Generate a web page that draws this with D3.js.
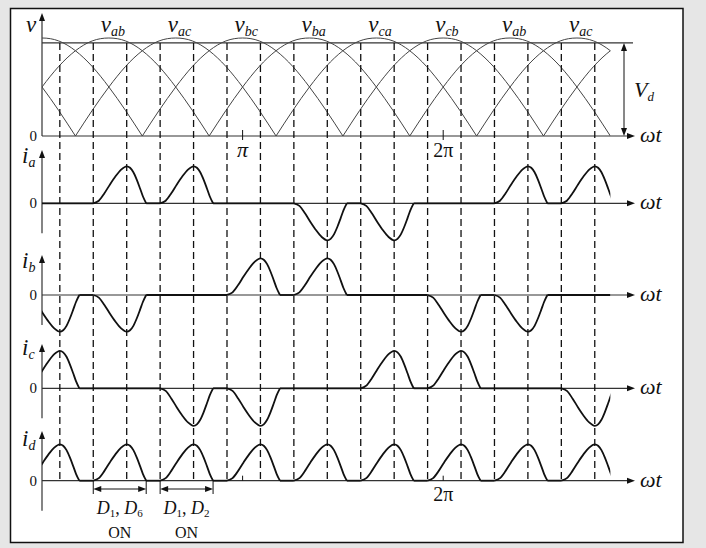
<!DOCTYPE html>
<html><head><meta charset="utf-8">
<script src="https://cdn.jsdelivr.net/npm/d3@7"></script>
<style>
html,body{margin:0;padding:0;background:#e6e6e6;}
svg{display:block;}
svg text{font-family:"Liberation Serif","Times New Roman",serif;fill:#111;}
</style></head><body>
<svg id="chart" width="706" height="548"></svg>
<script>
(function(){
// ---------------- data (angles in degrees of ωt) ----------------
const phaseLabels = ["ab","ac","bc","ba","ca","cb","ab","ac"];
const phasePeaks  = [60,120,180,240,300,360,420,480];
// start angle (zero crossing) of each rectified line-voltage half wave
const arcZeroStarts = [-150,-90,-30,30,90,150,210,270,330,390,450];
const arcShapeOffsets = [0,15,30,45,60,75,90,105,120,135,150,165,180];
const arcShapeValues  = [0,0.26,0.5,0.71,0.87,0.97,1,0.97,0.87,0.71,0.5,0.26,0];
const vdLevel = 0.95;
const dashedAngles = [16,46,76,106,136,166,196,226,256,286,316,346,376,406,436,466,496];
// shape of one current pulse: offset from pulse start, normalised value
const pulseOffsets = [0,5,10,15,20,25,30,33,36,39,42,44.5,47.5];
const pulseValues  = [0,0.07,0.27,0.51,0.73,0.91,1,0.96,0.84,0.64,0.4,0.19,0];
// pulse peak angles and signs for each current
const iaPeaks = [76,136,256,316,436,496];
const iaSigns = [1,1,-1,-1,1,1];
const ibPeaks = [16,76,196,256,376,436];
const ibSigns = [-1,-1,1,1,-1,-1];
const icPeaks = [16,136,196,316,376,496];
const icSigns = [1,-1,-1,1,1,-1];
const idPeaks = [16,76,136,196,256,316,376,436,496];
const idSigns = [1,1,1,1,1,1,1,1,1];
const thetaEnd = 510;
const piTicks = [180,360];

// ---------------- layout ----------------
const svg = d3.select("#chart");
svg.append("rect").attr("x",10.5).attr("y",8.5).attr("width",672.5).attr("height",534)
   .attr("fill","#fff").attr("stroke","#111").attr("stroke-width",1.5);

const x = d3.scaleLinear().domain([0,180]).range([42,242.6]);
const x0 = x(0), xAxisEnd = 629;

const defs = svg.append("defs");
defs.append("clipPath").attr("id","clipT").append("rect")
  .attr("x",x0).attr("y",0).attr("width",x(thetaEnd)-x0).attr("height",548);

function arrowHead(g, tipX, tipY, dir){
  let p;
  if(dir==="right") p=[[tipX,tipY],[tipX-8,tipY-3],[tipX-8,tipY+3]];
  else if(dir==="up") p=[[tipX,tipY],[tipX-3,tipY+8],[tipX+3,tipY+8]];
  else p=[[tipX,tipY],[tipX-3,tipY-8],[tipX+3,tipY-8]];
  g.append("path").attr("d","M"+p.map(d=>d.join(",")).join("L")+"Z").attr("fill","#111");
}

// ---------------- top panel: rectified line voltages ----------------
const yV = d3.scaleLinear().domain([0,1]).range([136,38]);
const topG = svg.append("g");
topG.append("line").attr("x1",x0).attr("x2",xAxisEnd).attr("y1",yV(0)).attr("y2",yV(0))
   .attr("stroke","#333").attr("stroke-width",1.2);
arrowHead(topG, xAxisEnd+6, yV(0), "right");
topG.append("line").attr("x1",x0).attr("x2",x0).attr("y1",yV(0)).attr("y2",20)
   .attr("stroke","#333").attr("stroke-width",1.2);
arrowHead(topG, x0, 13, "up");
topG.append("line").attr("x1",x0).attr("x2",633).attr("y1",yV(vdLevel)).attr("y2",yV(vdLevel))
   .attr("stroke","#333").attr("stroke-width",1.3);
const vLine = d3.line().x(d=>x(d[0])).y(d=>yV(d[1])).curve(d3.curveNatural);
const arcG = topG.append("g").attr("clip-path","url(#clipT)");
arcZeroStarts.forEach(s=>{
  const pts = arcShapeOffsets.map((o,i)=>[s+o, arcShapeValues[i]]);
  arcG.append("path").attr("d",vLine(pts)).attr("fill","none")
      .attr("stroke","#444").attr("stroke-width",1);
});
topG.append("line").attr("x1",624).attr("x2",624).attr("y1",yV(vdLevel)+7).attr("y2",yV(0)-7)
   .attr("stroke","#111").attr("stroke-width",1);
arrowHead(topG, 624, yV(vdLevel), "up");
arrowHead(topG, 624, yV(0), "down");
const vdT = topG.append("text").attr("x",634).attr("y",97).attr("font-size",22).attr("font-style","italic");
vdT.append("tspan").text("V");
vdT.append("tspan").attr("font-size",13).attr("dy",4).text("d");
phasePeaks.forEach((p,i)=>{
  const t = topG.append("text").attr("x",x(p)-8).attr("y",32).attr("font-size",23).attr("font-style","italic");
  t.append("tspan").text("v");
  t.append("tspan").attr("font-size",14).attr("dy",4).text(phaseLabels[i]);
});
topG.append("text").attr("x",26).attr("y",32).attr("font-size",23).attr("font-style","italic").text("v");
topG.append("text").attr("x",37).attr("y",141).attr("font-size",15).attr("text-anchor","end").text("0");
topG.append("text").attr("x",640).attr("y",142).attr("font-size",22).attr("font-style","italic").text("ωt");
piTicks.forEach(p=>{
  topG.append("line").attr("x1",x(p)).attr("x2",x(p)).attr("y1",yV(0)-6).attr("y2",yV(0)+4)
     .attr("stroke","#111").attr("stroke-width",1);
});
topG.append("text").attr("x",x(180)).attr("y",157).attr("font-size",22).attr("text-anchor","middle").attr("font-style","italic").text("π");
topG.append("text").attr("x",x(360)).attr("y",157).attr("font-size",20).attr("text-anchor","middle").text("2π");

// ---------------- current panels ----------------
const panels = [
  {sub:"a", peaks:iaPeaks, signs:iaSigns, zero:203.3, amp:37,   tip:150, labY:163},
  {sub:"b", peaks:ibPeaks, signs:ibSigns, zero:295,   amp:36.7, tip:255, labY:268},
  {sub:"c", peaks:icPeaks, signs:icSigns, zero:388.3, amp:37.5, tip:344, labY:355},
  {sub:"d", peaks:idPeaks, signs:idSigns, zero:480.7, amp:36.4, tip:431, labY:446}
];
const pulseLine = d3.line().curve(d3.curveMonotoneX);

panels.forEach(pn=>{
  const y = d3.scaleLinear().domain([-1,1]).range([pn.zero+pn.amp, pn.zero-pn.amp]);
  const g = svg.append("g");
  g.append("line").attr("x1",x0).attr("x2",xAxisEnd).attr("y1",y(0)).attr("y2",y(0))
   .attr("stroke","#333").attr("stroke-width",1.2);
  arrowHead(g, xAxisEnd+6, y(0), "right");
  g.append("line").attr("x1",x0).attr("x2",x0).attr("y1",y(0)+30).attr("y2",pn.tip+6)
   .attr("stroke","#333").attr("stroke-width",1.2);
  arrowHead(g, x0, pn.tip, "up");
  const lt = g.append("text").attr("x",22).attr("y",pn.labY).attr("font-size",23).attr("font-style","italic");
  lt.append("tspan").text("i");
  lt.append("tspan").attr("font-size",14).attr("dy",4).text(pn.sub);
  g.append("text").attr("x",37).attr("y",y(0)+5).attr("font-size",15).attr("text-anchor","end").text("0");
  g.append("text").attr("x",640).attr("y",y(0)+6).attr("font-size",22).attr("font-style","italic").text("ωt");

  const tg = g.append("g").attr("clip-path","url(#clipT)");
  let cursor = -60;
  pn.peaks.forEach((p,i)=>{
    const s = pn.signs[i];
    const start = p-30, end = p-30+pulseOffsets[pulseOffsets.length-1];
    if(start>cursor){
      tg.append("path").attr("d",d3.line()([[x(cursor),y(0)],[x(start),y(0)]]))
        .attr("stroke","#111").attr("stroke-width",1.8).attr("fill","none");
    }
    const pts = pulseOffsets.map((o,k)=>[x(start+o), y(s*pulseValues[k])]);
    tg.append("path").attr("d",pulseLine(pts)).attr("fill","none")
      .attr("stroke","#111").attr("stroke-width",1.8);
    cursor = end;
  });
  if(cursor<thetaEnd){
    tg.append("path").attr("d",d3.line()([[x(cursor),y(0)],[x(thetaEnd),y(0)]]))
      .attr("stroke","#111").attr("stroke-width",1.8).attr("fill","none");
  }
  pn.y = y;
});

const yd = panels[3].y;
piTicks.forEach(p=>{
  svg.append("line").attr("x1",x(p)).attr("x2",x(p)).attr("y1",yd(0)-5).attr("y2",yd(0))
     .attr("stroke","#111").attr("stroke-width",1);
});
svg.append("text").attr("x",x(360)).attr("y",501).attr("font-size",20).attr("text-anchor","middle").text("2π");

// ---------------- dashed guide lines ----------------
svg.append("g").selectAll("line").data(dashedAngles).join("line")
  .attr("x1",d=>x(d)).attr("x2",d=>x(d)).attr("y1",yV(vdLevel)).attr("y2",yd(0)+1)
  .attr("stroke","#111").attr("stroke-width",1.3).attr("stroke-dasharray","7,4");

// ---------------- conduction annotations ----------------
const onIntervals = [[46,"1","6"],[106,"1","2"]];
const pulseLen = pulseOffsets[pulseOffsets.length-1];
onIntervals.forEach(([st,a,b])=>{
  const xa = x(st), xb = x(st+pulseLen), ya = 489;
  const g = svg.append("g");
  [xa,xb].forEach(xx=>g.append("line").attr("x1",xx).attr("x2",xx).attr("y1",yd(0)).attr("y2",494)
    .attr("stroke","#111").attr("stroke-width",1));
  g.append("line").attr("x1",xa+6).attr("x2",xb-6).attr("y1",ya).attr("y2",ya).attr("stroke","#111").attr("stroke-width",1);
  g.append("path").attr("d",`M${xa},${ya}L${xa+8},${ya-3}L${xa+8},${ya+3}Z`).attr("fill","#111");
  g.append("path").attr("d",`M${xb},${ya}L${xb-8},${ya-3}L${xb-8},${ya+3}Z`).attr("fill","#111");
  const cx = (xa+xb)/2;
  const t = g.append("text").attr("x",cx).attr("y",514).attr("font-size",18).attr("text-anchor","middle");
  t.append("tspan").attr("font-style","italic").text("D");
  t.append("tspan").attr("font-size",11).attr("dy",3).text(a);
  t.append("tspan").attr("dy",-3).text(", ");
  t.append("tspan").attr("font-style","italic").text("D");
  t.append("tspan").attr("font-size",11).attr("dy",3).text(b);
  g.append("text").attr("x",cx).attr("y",538).attr("font-size",16).attr("text-anchor","middle").text("ON");
});
})();
</script>
</body></html>
